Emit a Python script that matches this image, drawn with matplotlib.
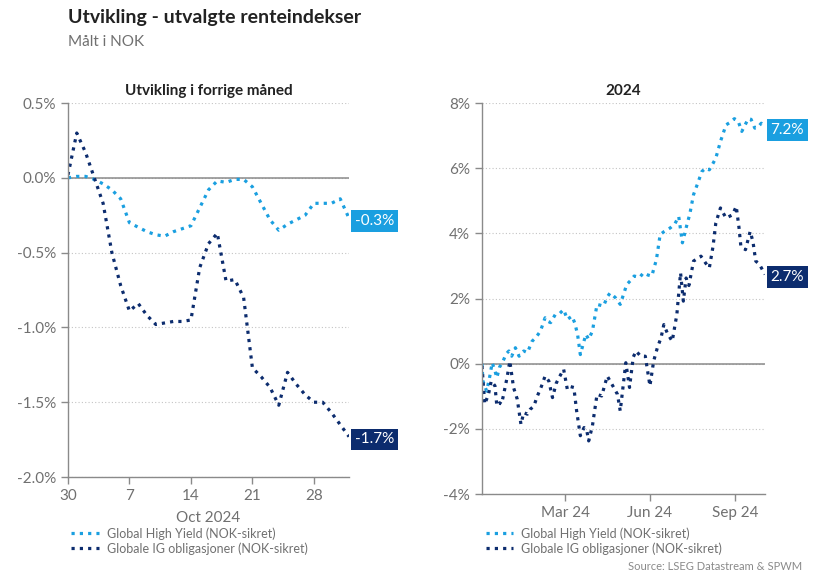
import numpy as np
import pandas as pd
import matplotlib
matplotlib.use("Agg")
import matplotlib.pyplot as plt
import matplotlib.dates as mdates
from matplotlib.ticker import FuncFormatter

plt.rcParams['font.family'] = ['Lato', 'DejaVu Sans']

LIGHT = '#1a9fe0'
NAVY = '#0c2c6e'
GREY = '#707070'

series_names = ['Global High Yield (NOK-sikret)', 'Globale IG obligasjoner (NOK-sikret)']

# last month, one value per calendar day from 30 Sep to 1 Nov 2024
month_start = '2024-09-30'
month_hy = [0.00, 0.01, 0.01, -0.01, -0.04, -0.08, -0.14, -0.30, -0.33, -0.36,
            -0.38, -0.39, -0.36, -0.34, -0.32, -0.20, -0.08, -0.02, -0.03, -0.01,
            -0.01, -0.06, -0.17, -0.28, -0.35, -0.31, -0.28, -0.25, -0.17, -0.17,
            -0.17, -0.14, -0.27]
month_ig = [0.02, 0.30, 0.17, 0.00, -0.17, -0.50, -0.72, -0.89, -0.84, -0.92,
            -0.98, -0.97, -0.96, -0.96, -0.95, -0.60, -0.44, -0.37, -0.69, -0.68,
            -0.80, -1.27, -1.33, -1.40, -1.52, -1.30, -1.38, -1.45, -1.50, -1.50,
            -1.57, -1.65, -1.73]
month_ticks = ['2024-09-30', '2024-10-07', '2024-10-14', '2024-10-21', '2024-10-28']
month_ticklabels = ['30', '7', '14', '21', '28']

# year to date, x = days after 1 Jan 2024
ytd_hy_day = [0, 1, 5, 8, 11, 14, 16, 19, 22, 26, 29, 32, 36, 40, 45, 49, 54, 58, 63,
              68, 71, 74, 79, 84, 88, 92, 97, 100, 103, 106, 109, 112, 115, 119, 124,
              131, 135, 138, 141, 144, 149, 156, 160, 164, 170, 174, 179, 183, 188,
              192, 196, 203, 208, 212, 216, 220, 224, 228, 232, 237, 241, 245, 249,
              252, 257, 263, 267, 272, 276, 280, 283, 287, 290, 294, 297, 301, 305]
ytd_hy = [0.00, -0.53, -0.84, -0.45, 0.03, -0.22, -0.43, -0.10, 0.03, 0.30, 0.39, 0.23,
          0.49, 0.23, 0.39, 0.34, 0.69, 0.80, 1.00, 1.41, 1.30, 1.26, 1.51, 1.55,
          1.66, 1.36, 1.46, 1.25, 0.90, 0.28, 0.60, 0.90, 0.75, 1.00, 1.82, 1.77,
          2.05, 2.17, 2.10, 2.02, 1.82, 2.43, 2.55, 2.69, 2.65, 2.79, 2.72, 2.69,
          3.20, 3.96, 4.05, 4.17, 4.30, 4.52, 3.71, 4.17, 4.60, 5.19, 5.50, 5.90,
          6.00, 5.95, 6.15, 6.31, 6.82, 7.33, 7.40, 7.52, 7.45, 7.13, 7.30, 7.52,
          7.50, 7.23, 7.25, 7.38, 7.25]
ytd_ig_day = [0, 3, 7, 10, 14, 16, 19, 21, 23, 27, 30, 34, 38, 42, 45, 49, 52, 56, 59,
              64, 68, 72, 76, 80, 83, 88, 92, 95, 99, 102, 106, 110, 113, 115, 119,
              124, 129, 135, 140, 146, 149, 155, 159, 163, 166, 171, 176, 181, 185,
              189, 193, 196, 200, 205, 210, 214, 217, 220, 223, 228, 236, 241, 245,
              249, 252, 257, 263, 270, 274, 277, 279, 284, 289, 292, 295, 299, 305]
ytd_ig = [-0.07, -1.24, -0.94, -0.53, -0.68, -1.29, -1.20, -1.24, -0.99, -0.43, 0.08,
          -0.73, -1.09, -1.86, -1.50, -1.55, -1.40, -1.30, -1.04, -0.70, -0.38, -0.53,
          -1.04, -0.60, -0.43, -0.17, -0.79, -0.70, -0.73, -1.45, -2.21, -1.96, -2.06,
          -2.37, -1.91, -0.94, -0.99, -0.38, -0.63, -0.94, -1.45, 0.03, -0.73, 0.20,
          0.39, 0.23, 0.23, -0.68, 0.08, 0.49, 0.80, 1.20, 0.92, 0.69, 1.51, 2.79,
          1.92, 2.63, 2.40, 3.15, 3.30, 3.09, 2.94, 3.60, 4.32, 4.78, 4.47, 4.57,
          4.83, 4.17, 3.60, 3.50, 4.06, 3.75, 3.15, 3.05, 2.74]
ytd_ticks = ['2024-03-31', '2024-06-30', '2024-09-30']


def style_axis(ax, ylim, yticks, fmt):
    ax.set_ylim(*ylim)
    ax.set_yticks(yticks)
    ax.yaxis.set_major_formatter(FuncFormatter(fmt))
    for s in ['top', 'right']:
        ax.spines[s].set_visible(False)
    for s in ['left', 'bottom']:
        ax.spines[s].set_color('#8a8a8a')
        ax.spines[s].set_linewidth(1.0)
    ax.grid(axis='y', color='#c4c4c4', linestyle=(0, (1, 2)), linewidth=0.8)
    ax.set_axisbelow(True)
    ax.axhline(0, color='#8a8a8a', linewidth=1.1, zorder=1)
    ax.tick_params(axis='both', colors='#8a8a8a', labelcolor=GREY, labelsize=11,
                   length=5, width=1.0)


def end_label(ax, x, y, text, color):
    ax.annotate(text, xy=(x, y), xytext=(4, -2), textcoords='offset points',
                ha='left', va='center', color='white', fontsize=11,
                annotation_clip=False,
                bbox=dict(boxstyle='square,pad=0.25', fc=color, ec='none'))


def add_legend(ax, x0):
    leg = ax.legend(loc='upper left', bbox_to_anchor=(x0, 1 - 527 / 577),
                    bbox_transform=fig.transFigure, frameon=False, fontsize=9,
                    handlelength=2.2, handletextpad=0.65, labelspacing=0.2,
                    borderaxespad=0, borderpad=0)
    for t in leg.get_texts():
        t.set_color(GREY)


fig = plt.figure(figsize=(8.29, 5.77), dpi=100)
fig.patch.set_facecolor('white')

line_kw = dict(linestyle=(0, (1, 1.6)), linewidth=2.3, dash_capstyle='butt')

# left panel
ax1 = fig.add_axes([0.082, 0.1733, 0.339, 0.648])
mdays = pd.date_range(month_start, periods=len(month_hy), freq='D')
ax1.plot(mdays, month_hy, color=LIGHT, label=series_names[0], **line_kw)
ax1.plot(mdays, month_ig, color=NAVY, label=series_names[1], **line_kw)
ax1.set_xlim(mdays[0], mdays[-1])
ax1.set_xticks(pd.to_datetime(month_ticks))
ax1.set_xticklabels(month_ticklabels)
style_axis(ax1, (-2.0, 0.5), np.arange(-2.0, 0.51, 0.5),
           lambda v, p: f'{v:.1f}%')
ax1.set_xlabel('Oct 2024', fontsize=11, color=GREY, labelpad=6)
ax1.set_title('Utvikling i forrige måned', fontsize=11, fontweight='bold',
              color='#222222', pad=6)
end_label(ax1, mdays[-1], month_hy[-1], f'{month_hy[-1]:.1f}%', LIGHT)
end_label(ax1, mdays[-1], month_ig[-1], f'{month_ig[-1]:.1f}%', NAVY)
add_legend(ax1, 0.086)

# right panel
ax2 = fig.add_axes([0.5814, 0.1438, 0.3414, 0.6776])
y0 = pd.Timestamp('2024-01-01')
hy_dates = y0 + pd.to_timedelta(ytd_hy_day, unit='D')
ig_dates = y0 + pd.to_timedelta(ytd_ig_day, unit='D')
ax2.plot(hy_dates, ytd_hy, color=LIGHT, label=series_names[0], **line_kw)
ax2.plot(ig_dates, ytd_ig, color=NAVY, label=series_names[1], **line_kw)
ax2.set_xlim(y0, pd.Timestamp('2024-11-01'))
ax2.set_xticks(pd.to_datetime(ytd_ticks))
ax2.xaxis.set_major_formatter(mdates.DateFormatter('%b %y'))
style_axis(ax2, (-4, 8), np.arange(-4, 8.1, 2), lambda v, p: f'{v:.0f}%')
ax2.set_title('2024', fontsize=11, fontweight='bold', color='#222222', pad=6)
end_label(ax2, hy_dates[-1], ytd_hy[-1], f'{ytd_hy[-1]:.1f}%', LIGHT)
end_label(ax2, ig_dates[-1], ytd_ig[-1], f'{ytd_ig[-1]:.1f}%', NAVY)
add_legend(ax2, 0.586)

# titles and source
fig.text(68 / 829, 1 - 18 / 577, 'Utvikling - utvalgte renteindekser', fontsize=14,
         fontweight='bold', color='#222222', va='center', ha='left')
fig.text(68 / 829, 1 - 42 / 577, 'Målt i NOK', fontsize=11,
         color=GREY, va='center', ha='left')
fig.text(802 / 829, 1 - 567 / 577, 'Source: LSEG Datastream & SPWM', fontsize=8,
         color='#8a8a8a', va='center', ha='right')

fig.savefig('out.png', dpi=100)
